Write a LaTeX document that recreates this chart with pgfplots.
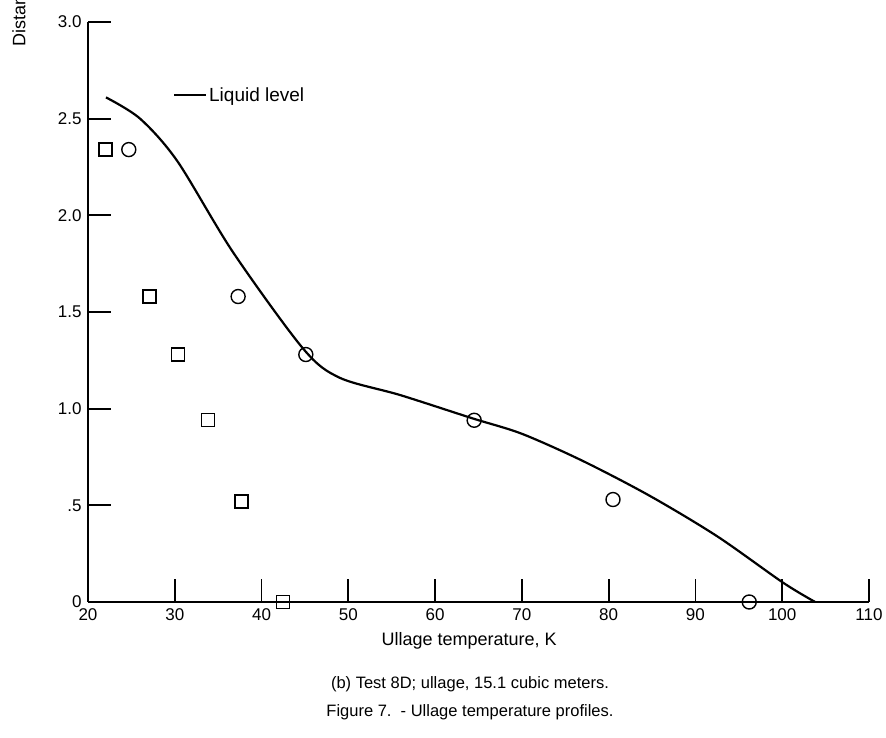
\documentclass[border=0pt]{standalone}
\usepackage{fontspec}
\setmainfont{Liberation Sans}
\usepackage{pgfplots}
\pgfplotsset{compat=1.18}
\begin{document}
\begin{tikzpicture}
\path[use as bounding box] (0,0) rectangle (886pt,738pt);
\begin{axis}[
  at={(88pt,136pt)}, anchor=south west,
  scale only axis, width=781pt, height=580pt,
  xmin=20, xmax=110, ymin=0, ymax=3,
  clip=false,
  axis lines=left,
  axis line style={-, line width=1.8pt},
  tick align=inside,
  major tick length=23pt,
  tick style={line width=1.8pt, black},
  xtick={20,30,...,110},
  ytick={0,0.5,1,1.5,2,2.5,3},
  yticklabels={0,.5,1.0,1.5,2.0,2.5,3.0},
  ticklabel style={font=\fontsize{17}{19}\selectfont},
  xticklabel style={yshift=-3pt},
  yticklabel style={xshift=-3pt},
  /pgf/number format/assume math mode=true,
  xlabel={Ullage temperature, K},
  xlabel style={at={(axis description cs:0.488,-0.067)}, anchor=center, font=\fontsize{18}{20}\selectfont},
  legend style={at={(rel axis cs:0.1088,0.874)}, anchor=west, draw=none, fill=none, inner sep=0pt,
    font=\fontsize{19}{22}\selectfont},
  legend image code/.code={\draw[line width=2pt] (0pt,0pt) -- (32pt,0pt);},
]
\addplot[black, smooth, tension=0.5, line width=2.2pt] coordinates {
(22.07,2.61) (26.0,2.50) (30.3,2.28) (36.7,1.81) (44.8,1.31)
(49.0,1.16) (56.0,1.07) (64.3,0.95) (70.0,0.87) (77.0,0.73)
(84.7,0.55) (92.5,0.34) (100.1,0.10) (103.8,0)
};
\addlegendentry{Liquid level}
\addplot[black, only marks, mark=square, mark size=6.5pt, mark options={line width=1.4pt, fill=white}, forget plot] coordinates {
(22.0,2.34) (27.1,1.58) (30.4,1.28) (33.8,0.94) (37.7,0.52) (42.5,0)
};
\addplot[black, only marks, mark=o, mark size=7pt, mark options={line width=1.4pt, fill=white}, forget plot] coordinates {
(24.7,2.34) (37.3,1.58) (45.1,1.28) (64.5,0.94) (80.5,0.53) (96.2,0)
};
\end{axis}
\node[rotate=90, anchor=west, font=\fontsize{18}{20}\selectfont] at (20pt,688pt) {Distance from tank bottom, m};
\node[font=\fontsize{16.5}{19}\selectfont] at (470pt,54pt) {(b) Test 8D;\ ullage,\ 15.1 cubic meters.};
\node[font=\fontsize{16.5}{19}\selectfont] at (470pt,26pt) {Figure 7.\ \ - Ullage temperature profiles.};
\end{tikzpicture}
\end{document}
